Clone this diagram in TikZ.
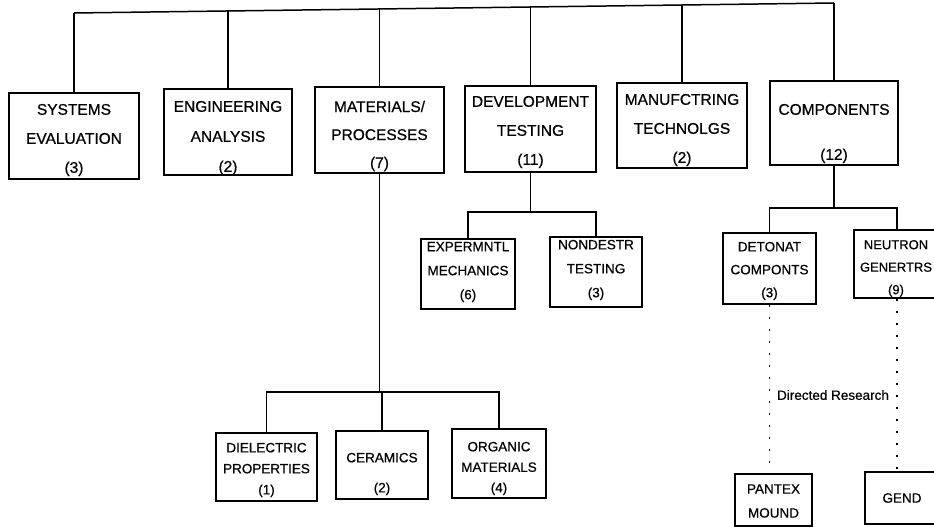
\documentclass[tikz,border=0pt]{standalone}
\usepackage{fontspec}
\setmainfont{Liberation Sans}[FakeBold=0.6]
\begin{document}
\begin{tikzpicture}[x=1pt,y=-1pt,
  box/.style={draw, line width=1.6pt, inner sep=0pt},
  sbox/.style={draw, line width=1.5pt, inner sep=0pt},
  tt/.style={inner sep=0pt, align=center, font=\fontsize{15.5}{#1}\selectfont},
  st/.style={inner sep=0pt, align=center, font=\fontsize{13.5}{#1}\selectfont},
  link/.style={line width=1.5pt},
  dotline/.style={line width=1.8pt, dash pattern=on 2.2pt off 9.8pt},
  lbl/.style={font=\fontsize{13.5}{16}\selectfont, inner sep=0pt}
  ]
\useasboundingbox (0,0) rectangle (934,527);
\clip (0,0) rectangle (934,527);

% top row boxes
\node[box, minimum width=130pt, minimum height=86pt] (sys) at (74,136) {};
\node[box, minimum width=128pt, minimum height=86pt] (eng) at (228,132) {};
\node[box, minimum width=129pt, minimum height=86pt] (mat) at (379.5,130) {};
\node[box, minimum width=131pt, minimum height=86pt] (dev) at (530.5,129) {};
\node[box, minimum width=130pt, minimum height=85pt] (man) at (682,125.5) {};
\node[box, minimum width=128pt, minimum height=84pt] (comp) at (834,123) {};
% top row texts
\node[tt=29] (sysT) at (74,140) {SYSTEMS\\EVALUATION\\(3)};
\node[tt=30] (engT) at (228,138) {ENGINEERING\\ANALYSIS\\(2)};
\node[tt=28] (matT) at (379.5,136) {MATERIALS/\\PROCESSES\\(7)};
\node[tt=29] (devT) at (530.5,132) {DEVELOPMENT\\TESTING\\(11)};
\node[tt=29] (manT) at (682,130) {MANUFCTRING\\TECHNOLGS\\(2)};
\node[tt=45] (compT) at (834,133.5) {COMPONENTS\\(12)};

% bus
\coordinate (b1) at (74,13);
\coordinate (b2) at (228,11);
\coordinate (b3) at (379.5,9);
\coordinate (b4) at (530.5,7);
\coordinate (b5) at (682,5);
\coordinate (b6) at (834,3);
\draw[link] (b1) -- (b6);
\draw[link] (b1) -- (sys.north);
\draw[link] (b2) -- (eng.north);
\draw[link] (b3) -- (mat.north);
\draw[link] (b4) -- (dev.north);
\draw[link] (b5) -- (man.north);
\draw[link] (b6) -- (comp.north);

% development testing children
\node[sbox, minimum width=94pt, minimum height=70pt] (exp) at (468,274) {};
\node[sbox, minimum width=92pt, minimum height=70pt] (nond) at (596,272) {};
\node[st=24] (expT) at (468,272) {EXPERMNTL\\MECHANICS\\(6)};
\node[st=24] (nondT) at (596,270) {NONDESTR\\TESTING\\(3)};
\coordinate (dj) at (530.5,212);
\draw[link] (dev.south) -- (dj);
\draw[link] (exp.north) -- (exp.north |- dj) -- (nond.north |- dj) -- (nond.north);

% components children
\node[sbox, minimum width=93pt, minimum height=71pt] (det) at (769.5,268.5) {};
\node[sbox, minimum width=86pt, minimum height=68pt] (neu) at (897,264) {};
\node[st=23] (detT) at (769.5,271) {DETONAT\\COMPONTS\\(3)};
\node[st=22.5, font=\fontsize{13}{22.5}\selectfont] (neuT) at (896,268.5) {NEUTRON\\GENERTRS\\(9)};
\coordinate (cj) at (834,208);
\draw[link] (comp.south) -- (cj);
\draw[link] (det.north) -- (det.north |- cj) -- (neu.north |- cj) -- (neu.north);

% directed research
\node[sbox, minimum width=77pt, minimum height=52pt] (pan) at (773.5,500) {};
\node[sbox, minimum width=74pt, minimum height=52pt] (gend) at (902,498) {};
\node[st=24] (panT) at (773.5,501) {PANTEX\\MOUND};
\node[st=16] (gendT) at (902,498) {GEND};
\draw[dotline] (det.south) -- (det.south |- pan.north);
\draw[dotline] (neu.south) -- (neu.south |- gend.north);
\node[lbl] (dr) at (833,395) {Directed Research};

% materials children
\node[sbox, minimum width=101pt, minimum height=68pt] (diel) at (266.5,467) {};
\node[sbox, minimum width=92pt, minimum height=68pt] (cer) at (382,465) {};
\node[sbox, minimum width=94pt, minimum height=69pt] (org) at (499,463.5) {};
\node[st=21] (dielT) at (266.5,470) {DIELECTRIC\\PROPERTIES\\(1)};
\node[st=30] (cerT) at (382,474) {CERAMICS\\(2)};
\node[st=20.5] (orgT) at (499,468.5) {ORGANIC\\MATERIALS\\(4)};
\coordinate (mj) at (379.5,392);
\draw[link] (mat.south) -- (mj);
\draw[link] (diel.north) -- (diel.north |- mj) -- (org.north |- mj) -- (org.north);
\draw[link] (cer.north |- mj) -- (cer.north);
\end{tikzpicture}
\end{document}
